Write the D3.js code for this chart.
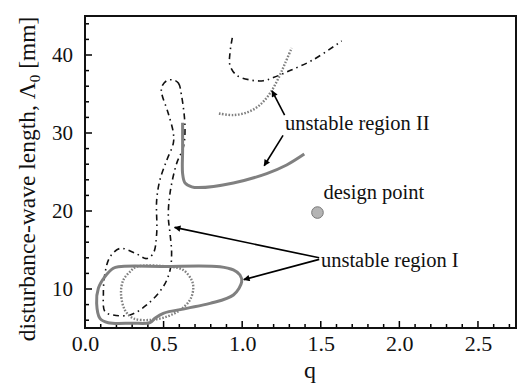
<!DOCTYPE html>
<html><head><meta charset="utf-8">
<script src="https://cdn.jsdelivr.net/npm/d3@7"></script>
<style>body{margin:0;background:#fff}svg{display:block}</style>
</head><body><svg id="c" width="522" height="383" font-family="Liberation Serif, DejaVu Serif, serif"></svg>
<script>
// ---- data ----
const xTicks = [0.0, 0.5, 1.0, 1.5, 2.0, 2.5];
const yTicks = [10, 20, 30, 40];
const solidI = [[0.212,12.86],[0.5,12.9],[0.859,12.86],[0.944,12.44],[0.986,11.8],[0.997,10.94],[0.944,9.23],[0.795,8.16],[0.647,7.52],[0.498,6.88],[0.445,6.24],[0.413,5.68],[0.3,5.62],[0.148,5.68],[0.095,6.24],[0.074,8.16],[0.085,10.09],[0.127,11.58],[0.18,12.65]];
const dottedI = [[0.329,12.86],[0.54,12.86],[0.625,12.44],[0.678,11.15],[0.689,10.09],[0.668,8.6],[0.604,7.3],[0.52,6.45],[0.413,6.03],[0.307,6.24],[0.254,7.3],[0.229,9.44],[0.244,11.15],[0.286,12.2]];
const dashDotI = [[0.562,36.8],[0.594,36.4],[0.615,34.7],[0.636,30.8],[0.626,28.2],[0.583,26.1],[0.541,22.3],[0.530,19.3],[0.541,17.1],[0.551,14.6],[0.541,12.4],[0.498,10.3],[0.392,7.95],[0.286,6.67],[0.18,6.67],[0.127,7.1],[0.117,9.44],[0.127,12.0],[0.159,14.1],[0.223,15.2],[0.318,14.6],[0.392,13.9],[0.435,14.6],[0.456,17.1],[0.456,21.4],[0.477,24.0],[0.52,26.5],[0.562,28.7],[0.562,30.0],[0.53,32.5],[0.488,35.1],[0.488,35.9],[0.52,36.7]];
const solidII = [[0.621,31.3],[0.621,27.8],[0.621,24.8],[0.636,23.6],[0.679,23.1],[0.721,23.0],[0.944,23.6],[1.156,24.8],[1.283,25.9],[1.395,27.3]];
const dottedII = [[0.852,32.5],[0.944,32.3],[1.039,32.7],[1.113,33.6],[1.177,35.1],[1.230,37.0],[1.272,38.9],[1.315,40.9]];
const dashDotII = [[0.937,42.2],[0.922,40.2],[0.922,38.7],[0.965,37.4],[1.050,36.8],[1.134,36.7],[1.198,37.1],[1.304,38.0],[1.453,39.4],[1.633,41.8]];
const designPoint = [1.479, 19.8];
const labels = [
  {text:"unstable region II", q:1.272, l:30.4},
  {text:"design point", q:1.517, l:21.5},
  {text:"unstable region I", q:1.501, l:12.86}
];
// arrows: [fromQ, fromL, toQ, toL]
const arrows = [
  [1.27, 32.3, 1.19, 35.4],
  [1.26, 29.7, 1.14, 25.8],
  [1.49, 14.0, 0.57, 17.9],
  [1.49, 13.8, 1.01, 11.2]
];

// ---- chart ----
const FONT = "Liberation Serif, DejaVu Serif, serif";
const svg = d3.select("#c");
const L = 85, R = 516, T = 16, B = 328;
const x = d3.scaleLinear().domain([0, 2.742]).range([L, R]);
const y = d3.scaleLinear().domain([5, 45]).range([B, T]);

svg.append("defs").append("marker").attr("id","ah").attr("viewBox","0 0 10 10")
  .attr("refX",9).attr("refY",5).attr("markerWidth",8).attr("markerHeight",6.5)
  .attr("markerUnits","userSpaceOnUse").attr("orient","auto")
  .append("path").attr("d","M0,0 L10,5 L0,10 Z").attr("fill","#000");

// minor & major ticks (inward)
const xMinor = d3.range(0, 2.75, 0.1);
svg.append("g").selectAll("line").data(xMinor).join("line")
  .attr("x1", d => x(d)).attr("x2", d => x(d))
  .attr("y1", B).attr("y2", (d,i) => B - (i % 5 === 0 ? 7 : 4))
  .attr("stroke","#000").attr("stroke-width",1.5);
const yMinor = d3.range(6, 45, 2);
svg.append("g").selectAll("line").data(yMinor).join("line")
  .attr("y1", d => y(d)).attr("y2", d => y(d))
  .attr("x1", L).attr("x2", d => L + (d % 10 === 0 ? 7 : 4))
  .attr("stroke","#000").attr("stroke-width",1.5);

// axes via d3
const xAxis = d3.axisBottom(x).tickValues(xTicks).tickFormat(d3.format(".1f")).tickSize(0).tickPadding(7);
const gx = svg.append("g").attr("transform",`translate(0,${B})`).call(xAxis);
gx.attr("font-family", FONT).attr("font-size", 22);
gx.select(".domain").remove();
gx.selectAll("text").attr("fill","#111");
const yAxis = d3.axisLeft(y).tickValues(yTicks).tickSize(0).tickPadding(12);
const gy = svg.append("g").attr("transform",`translate(${L},0)`).call(yAxis);
gy.attr("font-family", FONT).attr("font-size", 21);
gy.select(".domain").remove();
gy.selectAll("text").attr("fill","#111");

// frame
svg.append("rect").attr("x",L).attr("y",T).attr("width",R-L).attr("height",B-T)
  .attr("fill","none").attr("stroke","#111").attr("stroke-width",2);

// curves
const lineOpen = d3.line().x(d=>x(d[0])).y(d=>y(d[1])).curve(d3.curveCatmullRom.alpha(0.5));
const lineClosed = d3.line().x(d=>x(d[0])).y(d=>y(d[1])).curve(d3.curveCatmullRomClosed.alpha(0.5));
const g = svg.append("g").attr("fill","none");
g.append("path").attr("d",lineClosed(dashDotI)).attr("stroke","#111").attr("stroke-width",1.6).attr("stroke-dasharray","6,4,1.5,4");
g.append("path").attr("d",lineOpen(dashDotII)).attr("stroke","#111").attr("stroke-width",1.6).attr("stroke-dasharray","6,4,1.5,4");
g.append("path").attr("d",lineClosed(dottedI)).attr("stroke","#808080").attr("stroke-width",2.4).attr("stroke-dasharray","1.6,1.6");
g.append("path").attr("d",lineOpen(dottedII)).attr("stroke","#808080").attr("stroke-width",2.4).attr("stroke-dasharray","1.6,1.6");
g.append("path").attr("d",lineClosed(solidI)).attr("stroke","#808080").attr("stroke-width",3);
g.append("path").attr("d",lineOpen(solidII)).attr("stroke","#808080").attr("stroke-width",3);

// design point
svg.append("circle").attr("cx",x(designPoint[0])).attr("cy",y(designPoint[1])).attr("r",5.8)
  .attr("fill","#b4b4b4").attr("stroke","#777").attr("stroke-width",1);

// arrows
svg.append("g").selectAll("line").data(arrows).join("line")
  .attr("x1",d=>x(d[0])).attr("y1",d=>y(d[1])).attr("x2",d=>x(d[2])).attr("y2",d=>y(d[3]))
  .attr("stroke","#000").attr("stroke-width",1.6).attr("marker-end","url(#ah)");

// labels
svg.append("g").attr("font-family", FONT).attr("font-size",20.5).selectAll("text").data(labels).join("text")
  .attr("x",d=>x(d.q)).attr("y",d=>y(d.l)).attr("fill","#111").text(d=>d.text);

// axis titles
svg.append("text").attr("font-family", FONT).attr("x",310).attr("y",378).attr("text-anchor","middle")
  .attr("font-size",24).attr("fill","#111").text("q");
const yt = svg.append("text").attr("font-family", FONT).attr("transform",`translate(35,${(T+B)/2 + 7}) rotate(-90)`)
  .attr("text-anchor","middle").attr("font-size",23.5).attr("fill","#111");
yt.append("tspan").text("disturbance-wave length, Λ");
yt.append("tspan").attr("font-size",15).attr("dy",5).text("0");
yt.append("tspan").attr("dy",-5).text(" [mm]");
</script></body></html>
